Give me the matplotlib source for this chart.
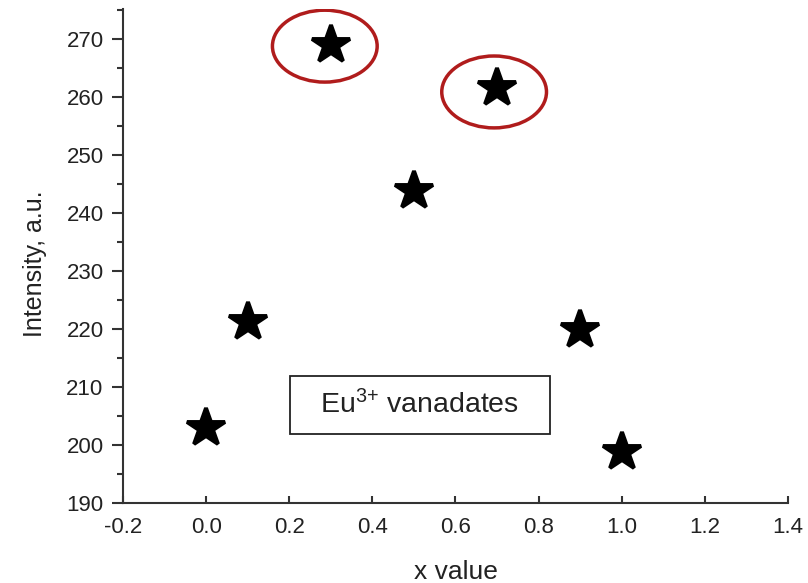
import matplotlib
matplotlib.use("Agg")
import matplotlib.pyplot as plt
from matplotlib.patches import Ellipse, Rectangle
from matplotlib.ticker import MultipleLocator

x_values = [0.0, 0.1, 0.3, 0.5, 0.7, 0.9, 1.0]
intensity = [202.9, 221.2, 269.0, 243.8, 261.6, 219.8, 198.8]
circled_x = [0.2856, 0.693]
circled_y = [268.8, 260.9]
x_ticks = [-0.2, 0.0, 0.2, 0.4, 0.6, 0.8, 1.0, 1.2, 1.4]
x_tick_labels = ['-0.2', '0.0', '0.2', '0.4', '0.6', '0.8', '1.0', '1.2', '1.4']

plt.rcParams['font.family'] = ['Liberation Sans', 'DejaVu Sans']
plt.rcParams['mathtext.fontset'] = 'custom'
plt.rcParams['mathtext.rm'] = 'Liberation Sans'

fig = plt.figure(figsize=(8.08, 5.83), dpi=100)
ax = fig.add_axes([0.1522, 0.1372, 0.823, 0.8473])

ax.plot(x_values, intensity, linestyle='none', marker='*', markersize=29,
        color='black', markeredgewidth=2.8, markeredgecolor='black', zorder=3)

for cx, cy in zip(circled_x, circled_y):
    ax.add_patch(Ellipse((cx, cy), 0.252, 12.4, fill=False,
                         edgecolor='#b01c1c', linewidth=2.5, zorder=2))

ax.add_patch(Rectangle((0.2014, 201.9), 0.625, 10.0, fill=False,
                       edgecolor='#222222', linewidth=1.3, zorder=2))
ax.text(0.514, 206.9, r'$\mathregular{Eu^{3{+}}}$ vanadates', ha='center', va='center',
        fontsize=20.5, color='#222222')

ax.set_xlim(-0.2, 1.4)
ax.set_ylim(190, 275.2)
ax.yaxis.set_major_locator(MultipleLocator(10))
ax.yaxis.set_minor_locator(MultipleLocator(5))
ax.set_xticks(x_ticks)
ax.set_xticklabels(x_tick_labels)

for s in ['top', 'right']:
    ax.spines[s].set_visible(False)
for s in ['left', 'bottom']:
    ax.spines[s].set_color('#333333')
    ax.spines[s].set_linewidth(1.5)

ax.tick_params(axis='y', which='major', direction='out', length=8, width=1.5,
               color='#333333', labelsize=16, labelcolor='#222222', pad=6)
ax.tick_params(axis='y', which='minor', direction='out', length=4, width=1.5,
               color='#333333')
ax.tick_params(axis='x', which='major', direction='in', length=5, width=1.5,
               color='#333333', labelsize=16, labelcolor='#222222', pad=10)

ax.set_xlabel('x value', fontsize=19, color='#222222', labelpad=16)
ax.set_ylabel('Intensity, a.u.', fontsize=18, color='#222222')
ax.yaxis.set_label_coords(-0.115, 0.484)

fig.savefig('out.png', dpi=100)
